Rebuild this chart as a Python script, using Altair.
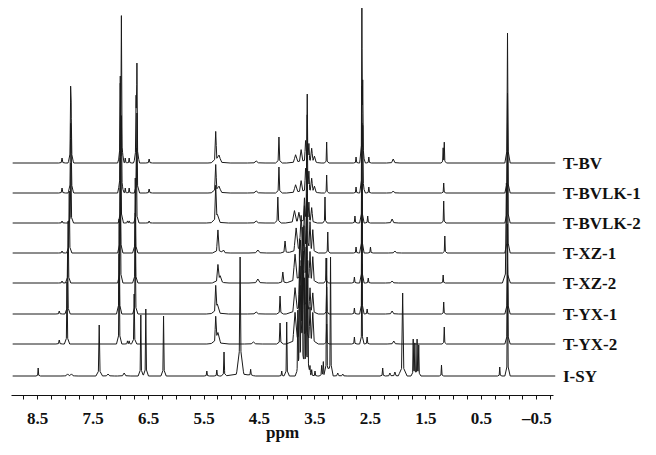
import altair as alt
import pandas as pd

# ---------------- data ----------------
TRACE_NAMES = ["T-BV", "T-BVLK-1", "T-BVLK-2", "T-XZ-1", "T-XZ-2", "T-YX-1", "T-YX-2", "I-SY"]
TRACE_OFFSETS = [232, 202, 172, 142, 112, 81, 51, 19]
PPM_START, PPM_END = 8.94, -0.84

# peaks: (ppm, height, half-width)
T_BV = [(8.05, 5, 0.015), (7.895, 66, 0.012), (7.885, 45, 0.012), (7.00, 77, 0.012), (6.98, 142, 0.012),
        (6.91, 5, 0.012), (6.84, 5, 0.012), (6.715, 60, 0.012), (6.70, 95, 0.012), (6.48, 4, 0.015),
        (5.28, 31, 0.02), (5.22, 7, 0.05), (4.55, 2, 0.04), (4.14, 26, 0.015),
        (3.84, 8, 0.04), (3.74, 13, 0.03), (3.66, 20, 0.02), (3.63, 66, 0.01), (3.60, 16, 0.015),
        (3.55, 14, 0.025), (3.50, 6, 0.03), (3.28, 21, 0.01), (2.75, 6, 0.012), (2.645, 149, 0.01),
        (2.63, 72, 0.012), (2.52, 6, 0.012), (2.08, 4, 0.03), (1.18, 14, 0.01), (1.16, 20, 0.01),
        (0.02, 130, 0.012)]
T_BVLK1 = [(8.05, 5, 0.015), (7.895, 60, 0.012), (7.885, 40, 0.012), (7.00, 105, 0.012), (6.98, 70, 0.012),
           (6.91, 5, 0.012), (6.84, 5, 0.012), (6.70, 80, 0.012), (6.48, 4, 0.015),
           (5.28, 28, 0.02), (5.22, 6, 0.05), (4.55, 2, 0.04), (4.14, 26, 0.015),
           (3.84, 8, 0.04), (3.74, 12, 0.03), (3.66, 22, 0.02), (3.63, 75, 0.01), (3.60, 18, 0.015),
           (3.55, 14, 0.025), (3.50, 6, 0.03), (3.28, 18, 0.01), (2.75, 6, 0.012), (2.645, 102, 0.01),
           (2.63, 60, 0.012), (2.52, 6, 0.012), (2.08, 2, 0.03), (1.17, 10, 0.01), (0.02, 100, 0.012)]
T_BVLK2 = [(8.05, 2, 0.015), (7.89, 60, 0.012), (6.99, 100, 0.012), (6.87, 2, 0.012), (6.84, 2, 0.012),
           (6.71, 75, 0.012), (6.48, 2, 0.015), (5.28, 35, 0.02), (5.25, 6, 0.05), (4.55, 2, 0.04),
           (4.16, 26, 0.015), (3.86, 12, 0.04), (3.78, 10, 0.03), (3.68, 25, 0.02), (3.64, 70, 0.01),
           (3.60, 20, 0.015), (3.55, 15, 0.025), (3.31, 26, 0.01), (2.77, 7, 0.012), (2.645, 100, 0.01),
           (2.54, 7, 0.012), (2.10, 4, 0.03), (1.17, 22, 0.01), (0.02, 100, 0.012)]
T_XZ1 = [(8.05, 2, 0.015), (7.92, 62, 0.012), (7.00, 95, 0.012), (6.73, 75, 0.012), (5.24, 23, 0.025),
         (5.14, 3, 0.03), (4.52, 3, 0.04), (4.03, 12, 0.02), (3.83, 24, 0.04), (3.74, 35, 0.03),
         (3.68, 45, 0.02), (3.63, 80, 0.012), (3.58, 30, 0.02), (3.53, 22, 0.025), (3.26, 21, 0.01),
         (2.75, 6, 0.012), (2.645, 110, 0.01), (2.49, 6, 0.012), (2.05, 2, 0.03), (1.15, 17, 0.01),
         (0.02, 110, 0.012)]
T_XZ2 = [(8.05, 2, 0.015), (7.94, 62, 0.012), (7.00, 95, 0.012), (6.73, 70, 0.012), (5.24, 18, 0.025),
         (5.20, 6, 0.04), (4.52, 4, 0.04), (4.07, 11, 0.02), (3.85, 28, 0.04), (3.75, 40, 0.03),
         (3.69, 55, 0.02), (3.64, 85, 0.012), (3.58, 30, 0.02), (3.53, 25, 0.025), (3.29, 25, 0.01),
         (2.78, 6, 0.012), (2.645, 100, 0.01), (2.53, 5, 0.012), (2.10, 2, 0.03), (1.18, 8, 0.01),
         (0.04, 100, 0.018)]
T_YX1 = [(8.10, 3, 0.015), (7.95, 62, 0.012), (7.02, 95, 0.012), (6.73, 70, 0.012), (5.28, 25, 0.02),
         (5.25, 8, 0.05), (4.55, 2, 0.04), (4.12, 18, 0.015), (3.85, 25, 0.04), (3.76, 45, 0.03),
         (3.70, 60, 0.02), (3.64, 90, 0.012), (3.58, 25, 0.02), (3.53, 20, 0.025), (3.28, 27, 0.01),
         (2.78, 6, 0.012), (2.645, 95, 0.01), (2.55, 5, 0.012), (2.10, 3, 0.03), (1.17, 12, 0.01),
         (0.02, 90, 0.012)]
T_YX2 = [(8.10, 4, 0.015), (7.96, 62, 0.012), (7.02, 90, 0.012), (6.87, 3, 0.012), (6.84, 3, 0.012),
         (6.75, 50, 0.012), (5.28, 25, 0.02), (5.24, 10, 0.05), (4.60, 2, 0.04), (4.12, 21, 0.015),
         (3.85, 30, 0.04), (3.76, 55, 0.03), (3.70, 70, 0.02), (3.64, 95, 0.012), (3.58, 35, 0.02),
         (3.53, 30, 0.025), (3.28, 20, 0.01), (2.78, 7, 0.012), (2.645, 80, 0.01), (2.55, 7, 0.012),
         (2.07, 3, 0.03), (1.16, 17, 0.01), (0.02, 80, 0.012)]
I_SY = [(8.48, 8, 0.01), (7.95, 2, 0.03), (7.88, 2, 0.03), (7.38, 51, 0.015), (7.22, 2, 0.03),
        (6.93, 3, 0.03), (6.63, 61, 0.012), (6.54, 67, 0.012), (6.22, 60, 0.012), (5.44, 5, 0.012),
        (5.26, 6, 0.012), (5.13, 24, 0.012), (4.84, 100, 0.015), (4.84, 19, 0.07), (4.65, 6, 0.012),
        (4.09, 5, 0.012), (4.00, 54, 0.012), (3.80, 60, 0.012), (3.77, 130, 0.012), (3.74, 100, 0.012),
        (3.72, 140, 0.012), (3.68, 90, 0.012), (3.65, 120, 0.012), (3.62, 110, 0.012), (3.58, 8, 0.012),
        (3.55, 6, 0.012), (3.49, 5, 0.012), (3.37, 10, 0.012), (3.34, 14, 0.012), (3.28, 118, 0.012),
        (3.21, 119, 0.012), (3.08, 3, 0.02), (2.99, 2, 0.02), (2.27, 8, 0.012), (2.14, 3, 0.02),
        (2.05, 4, 0.02), (1.91, 83, 0.02), (1.72, 36, 0.01), (1.69, 32, 0.01), (1.65, 36, 0.01),
        (1.62, 30, 0.01), (1.21, 11, 0.01), (0.16, 9, 0.01), (0.02, 100, 0.012)]
TRACE_PEAKS = [T_BV, T_BVLK1, T_BVLK2, T_XZ1, T_XZ2, T_YX1, T_YX2, I_SY]

TICK_VALUES = [round(8.75 - 0.25 * i, 2) for i in range(39)]

# ---------------- build table ----------------
# each peak: a sharp core plus a low, wider skirt (lineshape tail)
rows = []
for name, off, peaks in zip(TRACE_NAMES, TRACE_OFFSETS, TRACE_PEAKS):
    parts = []
    for p, h, w in peaks:
        parts.append((p, 0.88 * h, w))
        parts.append((p, 0.12 * h, 4 * w))
    xs = {PPM_START, PPM_END}
    for p, h, w in parts:
        xs.update([round(p - w, 4), p, round(p + w, 4)])
    for i, x in enumerate(sorted(xs, reverse=True)):
        y = sum(max(0.0, h * (1 - abs(x - p) / w)) for p, h, w in parts)
        rows.append({"trace": name, "ppm": x, "y": off + y, "i": i})
df = pd.DataFrame(rows)
lab = pd.DataFrame({"trace": TRACE_NAMES, "y": TRACE_OFFSETS})

FONT = "Liberation Serif"
xscale = alt.Scale(domain=[8.97, -0.8], nice=False, zero=False)
yscale = alt.Scale(domain=[0, 387], nice=False, zero=False)

label_expr = ("abs(datum.value * 2) % 2 == 1 ? (datum.value < 0 ? '\u2013' + format(abs(datum.value), '.1f') "
              ": format(datum.value, '.1f')) : ''")

lines = alt.Chart(df).mark_line(color="#1a1a1a", strokeWidth=1.0).encode(
    x=alt.X("ppm:Q", scale=xscale, title="ppm",
            axis=alt.Axis(values=TICK_VALUES, labelExpr=label_expr, grid=False, tickSize=4,
                          tickColor="#111", domainColor="#111", labelOverlap=False, labelFlush=False,
                          labelFont=FONT, labelFontSize=17, labelFontWeight="bold", labelColor="#111",
                          labelPadding=11, titleFont=FONT, titleFontSize=17, titleFontWeight="bold",
                          titleColor="#111", titlePadding=-2)),
    y=alt.Y("y:Q", scale=yscale, axis=None),
    detail="trace:N",
    order="i:Q",
)

labels = alt.Chart(lab).mark_text(align="left", baseline="alphabetic", dy=6, font=FONT, fontSize=17,
                                   fontWeight="bold", color="#111").encode(
    x=alt.value(552),
    y=alt.Y("y:Q", scale=yscale, axis=None),
    text="trace:N",
)

chart = alt.layer(lines, labels).properties(
    width=542, height=387,
    padding={"left": 3, "top": 0, "right": 95, "bottom": 60},
    autosize=alt.AutoSizeParams(type="none"),
    background="white",
).configure_view(stroke=None)

chart.save("out.html", embed_options={"renderer": "svg", "actions": False})
